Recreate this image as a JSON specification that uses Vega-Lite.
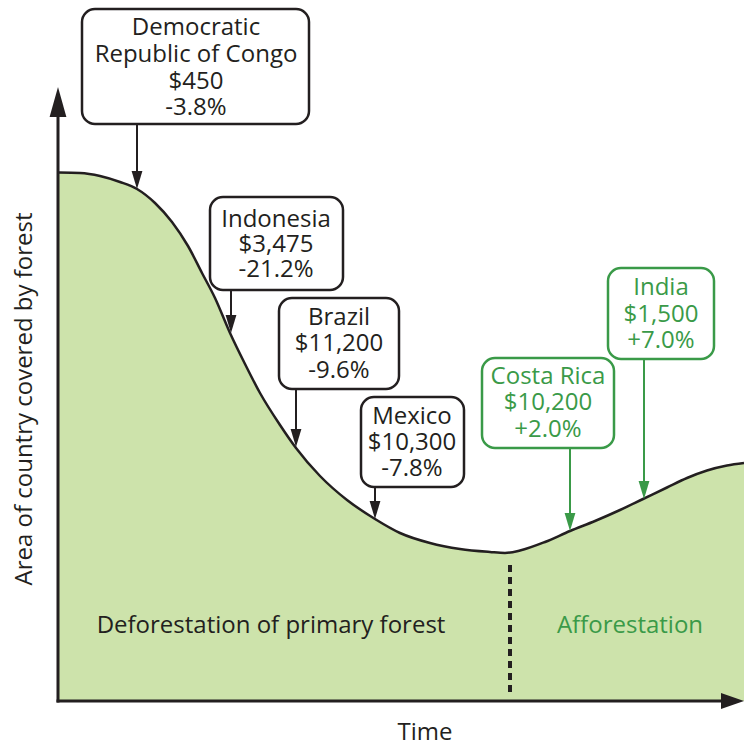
{
  "$schema": "https://vega.github.io/schema/vega-lite/v6.json",
  "width": 744,
  "height": 749,
  "padding": 0,
  "autosize": {"type": "none"},
  "background": "white",
  "config": {"view": {"stroke": null}, "text": {"font": "Open Sans"}},
  "datasets": {
    "curve": [
      {"t": 0, "v": 527.5}, {"t": 21, "v": 527}, {"t": 41, "v": 524}, {"t": 61, "v": 518},
      {"t": 78, "v": 511}, {"t": 96, "v": 497}, {"t": 113, "v": 478}, {"t": 129, "v": 454},
      {"t": 143, "v": 427}, {"t": 156, "v": 402}, {"t": 171, "v": 367}, {"t": 186, "v": 336},
      {"t": 201, "v": 307}, {"t": 221, "v": 275}, {"t": 237, "v": 252}, {"t": 261, "v": 224},
      {"t": 288, "v": 200}, {"t": 316, "v": 181}, {"t": 341, "v": 167}, {"t": 371, "v": 157},
      {"t": 401, "v": 151}, {"t": 431, "v": 148}, {"t": 446, "v": 147}, {"t": 461, "v": 149.5},
      {"t": 486, "v": 158}, {"t": 511, "v": 169}, {"t": 536, "v": 179}, {"t": 561, "v": 190},
      {"t": 584, "v": 201}, {"t": 608, "v": 212.5}, {"t": 628, "v": 222}, {"t": 648, "v": 229.5},
      {"t": 668, "v": 234.5}, {"t": 685, "v": 237}
    ],
    "boxes": [
      {"side": "deforestation", "t": 23, "t2": 250, "v": 691, "v2": 576},
      {"side": "deforestation", "t": 151, "t2": 284, "v": 503, "v2": 410},
      {"side": "deforestation", "t": 220, "t2": 340, "v": 402, "v2": 311},
      {"side": "deforestation", "t": 302, "t2": 405, "v": 303, "v2": 213},
      {"side": "afforestation", "t": 423, "t2": 555, "v": 342, "v2": 252},
      {"side": "afforestation", "t": 549, "t2": 655, "v": 432, "v2": 341}
    ],
    "lines": [
      {"side": "deforestation", "t": 137, "v": 672, "text": "Democratic"},
      {"side": "deforestation", "t": 137, "v": 645, "text": "Republic of Congo"},
      {"side": "deforestation", "t": 137, "v": 618, "text": "$450"},
      {"side": "deforestation", "t": 137, "v": 592, "text": "-3.8%"},
      {"side": "deforestation", "t": 217, "v": 480, "text": "Indonesia"},
      {"side": "deforestation", "t": 217, "v": 455, "text": "$3,475"},
      {"side": "deforestation", "t": 217, "v": 430, "text": "-21.2%"},
      {"side": "deforestation", "t": 280, "v": 382, "text": "Brazil"},
      {"side": "deforestation", "t": 280, "v": 356, "text": "$11,200"},
      {"side": "deforestation", "t": 280, "v": 329, "text": "-9.6%"},
      {"side": "deforestation", "t": 353, "v": 283, "text": "Mexico"},
      {"side": "deforestation", "t": 353, "v": 257, "text": "$10,300"},
      {"side": "deforestation", "t": 353, "v": 231, "text": "-7.8%"},
      {"side": "afforestation", "t": 489, "v": 323, "text": "Costa Rica"},
      {"side": "afforestation", "t": 489, "v": 297, "text": "$10,200"},
      {"side": "afforestation", "t": 489, "v": 270, "text": "+2.0%"},
      {"side": "afforestation", "t": 602, "v": 412, "text": "India"},
      {"side": "afforestation", "t": 602, "v": 385, "text": "$1,500"},
      {"side": "afforestation", "t": 602, "v": 359, "text": "+7.0%"}
    ],
    "arrows": [
      {"side": "deforestation", "t": 78, "t2": 78, "v": 576, "v2": 526, "tip": 511},
      {"side": "deforestation", "t": 172, "t2": 172, "v": 410, "v2": 381, "tip": 367},
      {"side": "deforestation", "t": 237, "t2": 237, "v": 311, "v2": 267, "tip": 253},
      {"side": "deforestation", "t": 316, "t2": 316, "v": 213, "v2": 195, "tip": 181},
      {"side": "afforestation", "t": 511, "t2": 511, "v": 252, "v2": 183, "tip": 169},
      {"side": "afforestation", "t": 585, "t2": 585, "v": 341, "v2": 216, "tip": 201}
    ],
    "axes": [
      {"axis": "y", "t": -1, "t2": -1, "v": -2.5, "v2": 590},
      {"axis": "x", "t": -2.5, "t2": 665, "v": -1, "v2": -1}
    ],
    "regions": [
      {"side": "deforestation", "t": 212, "v": 74, "text": "Deforestation of primary forest"},
      {"side": "afforestation", "t": 571, "v": 74, "text": "Afforestation"}
    ]
  },
  "encoding": {
    "x": {"field": "t", "type": "quantitative", "scale": {"domain": [-59, 685], "nice": false, "zero": false}, "axis": null},
    "y": {"field": "v", "type": "quantitative", "scale": {"domain": [-49, 700], "nice": false, "zero": false}, "axis": null}
  },
  "layer": [
    {
      "data": {"name": "curve"},
      "mark": {"type": "area", "interpolate": "monotone", "color": "#cde3ab"},
      "encoding": {"y2": {"datum": -1}}
    },
    {
      "data": {"name": "curve"},
      "mark": {"type": "line", "interpolate": "monotone", "color": "#231f20", "strokeWidth": 2.5}
    },
    {
      "data": {"values": [{"t": 451, "v": 8, "v2": 139}]},
      "mark": {"type": "rule", "color": "#231f20", "strokeWidth": 4, "strokeDash": [7, 5]},
      "encoding": {"y2": {"field": "v2"}}
    },
    {
      "data": {"name": "axes"},
      "mark": {"type": "rule", "color": "#231f20", "strokeWidth": 3},
      "encoding": {"x2": {"field": "t2"}, "y2": {"field": "v2"}}
    },
    {
      "data": {"values": [{"t": -1, "v": 613}]},
      "mark": {"type": "point", "shape": "M-0.28,1L0.28,1L0,0Z", "size": 3600, "filled": true, "opacity": 1, "color": "#231f20"}
    },
    {
      "data": {"values": [{"t": 685, "v": -1}]},
      "mark": {"type": "point", "shape": "M0,0L-1,-0.35L-1,0.35Z", "size": 2116, "filled": true, "opacity": 1, "color": "#231f20"}
    },
    {
      "data": {"name": "boxes"},
      "mark": {"type": "rect", "fill": "white", "cornerRadius": 13, "strokeWidth": 2.5},
      "encoding": {
        "x2": {"field": "t2"},
        "y2": {"field": "v2"},
        "stroke": {"field": "side", "type": "nominal", "scale": {"domain": ["deforestation", "afforestation"], "range": ["#231f20", "#3a9a48"]}, "legend": null}
      }
    },
    {
      "data": {"name": "lines"},
      "mark": {"type": "text", "fontSize": 24, "baseline": "middle", "align": "center"},
      "encoding": {
        "text": {"field": "text"},
        "color": {"field": "side", "type": "nominal", "scale": {"domain": ["deforestation", "afforestation"], "range": ["#231f20", "#3a9a48"]}, "legend": null}
      }
    },
    {
      "data": {"name": "arrows"},
      "mark": {"type": "rule", "strokeWidth": 2},
      "encoding": {
        "x2": {"field": "t2"},
        "y2": {"field": "v2"},
        "color": {"field": "side", "type": "nominal", "scale": {"domain": ["deforestation", "afforestation"], "range": ["#231f20", "#3a9a48"]}, "legend": null}
      }
    },
    {
      "data": {"name": "arrows"},
      "mark": {"type": "point", "shape": "M-0.3,-1L0.3,-1L0,0Z", "size": 1296, "filled": true, "opacity": 1},
      "encoding": {
        "y": {"field": "tip", "type": "quantitative"},
        "color": {"field": "side", "type": "nominal", "scale": {"domain": ["deforestation", "afforestation"], "range": ["#231f20", "#3a9a48"]}, "legend": null}
      }
    },
    {
      "data": {"name": "regions"},
      "mark": {"type": "text", "fontSize": 24, "baseline": "middle", "align": "center"},
      "encoding": {
        "text": {"field": "text"},
        "color": {"field": "side", "type": "nominal", "scale": {"domain": ["deforestation", "afforestation"], "range": ["#231f20", "#3a9a48"]}, "legend": null}
      }
    },
    {
      "data": {"values": [{"t": 366, "v": -33, "text": "Time"}]},
      "mark": {"type": "text", "fontSize": 24, "baseline": "middle", "align": "center", "color": "#231f20"},
      "encoding": {"text": {"field": "text"}}
    },
    {
      "data": {"values": [{"t": -34, "v": 301, "text": "Area of country covered by forest"}]},
      "mark": {"type": "text", "fontSize": 24, "baseline": "middle", "align": "center", "angle": 270, "color": "#231f20"},
      "encoding": {"text": {"field": "text"}}
    }
  ]
}
